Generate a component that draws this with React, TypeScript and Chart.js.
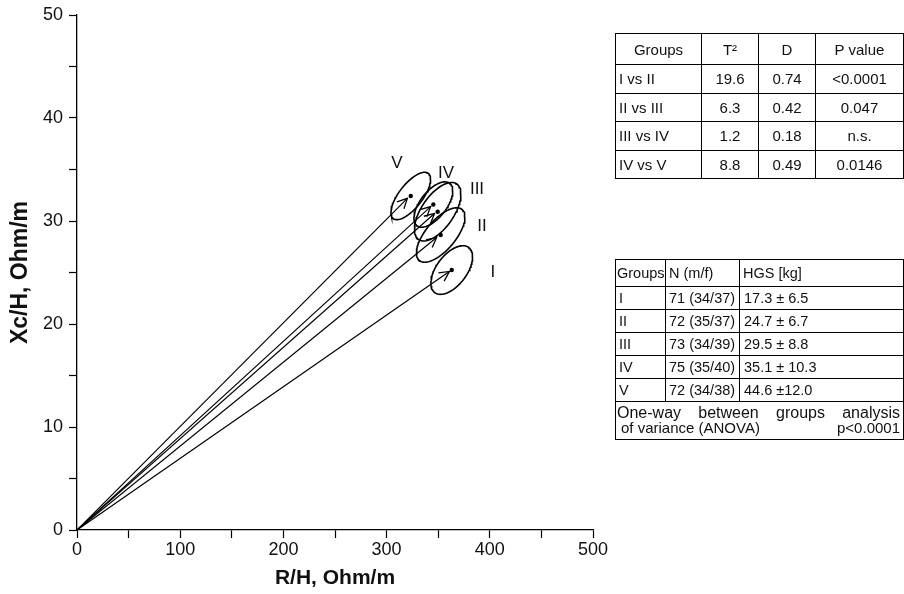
import React, { useEffect, useRef } from "react";
import { Chart, registerables } from "chart.js";

Chart.register(...registerables);

// ---- vector plot data (R/H, Xc/H in Ohm/m) ----
const groups = ["I", "II", "III", "IV", "V"];
const meanR = [363.1, 352.4, 349.5, 345.3, 323.4];
const meanXc = [25.24, 28.64, 30.9, 31.6, 32.43];
const tipR = [360.8, 348.5, 346.4, 342.7, 320.1];
const tipXc = [25.1, 28.4, 30.73, 31.4, 32.2];
// confidence ellipse: half extent along R, along Xc, and R–Xc correlation
const halfR = [20.2, 23.5, 22.5, 18.8, 19.2];
const halfXc = [2.36, 2.64, 2.84, 2.2, 2.3];
const corrRXc = [0.54, 0.66, 0.6, 0.6, 0.7];
const labelR = [403, 392.4, 387.6, 357.6, 310];
const labelXc = [25.0, 29.5, 33.1, 34.6, 35.6];

const xTicksMajor = [0, 100, 200, 300, 400, 500];
const yTicksMajor = [0, 10, 20, 30, 40, 50];

// ---- table 1 ----
const pairHead = ["Groups", "T²", "D", "P value"];
const pairNames = ["I vs II", "II vs III", "III vs IV", "IV vs V"];
const pairT2 = ["19.6", "6.3", "1.2", "8.8"];
const pairD = ["0.74", "0.42", "0.18", "0.49"];
const pairP = ["<0.0001", "0.047", "n.s.", "0.0146"];

// ---- table 2 ----
const grpHead = ["Groups", "N (m/f)", "HGS [kg]"];
const grpN = ["71 (34/37)", "72 (35/37)", "73 (34/39)", "75 (35/40)", "72 (34/38)"];
const grpHGS = ["17.3 ± 6.5", "24.7 ± 6.7", "29.5 ± 8.8", "35.1 ± 10.3", "44.6 ±12.0"];
const anovaLine1 = "One-way between groups analysis";
const anovaLine2 = "of variance (ANOVA)";
const anovaP = "p<0.0001";

const FONT = '"Liberation Sans", Arial, sans-serif';

function ellipsePoints(i: number) {
  const pts: { x: number; y: number }[] = [];
  const n = 96;
  const r = corrRXc[i];
  const s = Math.sqrt(1 - r * r);
  for (let k = 0; k <= n; k++) {
    const t = (k / n) * Math.PI * 2;
    pts.push({
      x: meanR[i] + halfR[i] * Math.cos(t),
      y: meanXc[i] + halfXc[i] * (r * Math.cos(t) + s * Math.sin(t)),
    });
  }
  return pts;
}

const arrowPlugin = {
  id: "arrowsAndLabels",
  afterDatasetsDraw(chart: any) {
    const { ctx, scales } = chart;
    const xs = scales.x;
    const ys = scales.y;
    const ox = xs.getPixelForValue(0);
    const oy = ys.getPixelForValue(0);
    ctx.save();
    ctx.strokeStyle = "#000";
    ctx.lineWidth = 1.3;
    for (let i = 0; i < groups.length; i++) {
      const tx = xs.getPixelForValue(tipR[i]);
      const ty = ys.getPixelForValue(tipXc[i]);
      const ang = Math.atan2(ty - oy, tx - ox);
      const len = 11;
      const spread = 0.47;
      ctx.beginPath();
      ctx.moveTo(tx + len * Math.cos(ang + Math.PI - spread), ty + len * Math.sin(ang + Math.PI - spread));
      ctx.lineTo(tx, ty);
      ctx.lineTo(tx + len * Math.cos(ang + Math.PI + spread), ty + len * Math.sin(ang + Math.PI + spread));
      ctx.stroke();
    }
    ctx.fillStyle = "#111";
    ctx.font = `17px ${FONT}`;
    ctx.textAlign = "center";
    ctx.textBaseline = "middle";
    for (let i = 0; i < groups.length; i++) {
      ctx.fillText(groups[i], xs.getPixelForValue(labelR[i]), ys.getPixelForValue(labelXc[i]));
    }
    ctx.restore();
  },
};

function ChartView() {
  const ref = useRef<HTMLCanvasElement | null>(null);
  useEffect(() => {
    if (!ref.current) return;
    const datasets: any[] = [];
    groups.forEach((g, i) => {
      datasets.push({
        label: "ellipse " + g,
        data: ellipsePoints(i),
        showLine: true,
        borderColor: "#000",
        borderWidth: 1.6,
        pointRadius: 0,
        tension: 0,
        fill: false,
      });
      datasets.push({
        label: "vector " + g,
        data: [
          { x: 0, y: 0 },
          { x: tipR[i], y: tipXc[i] },
        ],
        showLine: true,
        borderColor: "#000",
        borderWidth: 1.2,
        pointRadius: 0,
        tension: 0,
        fill: false,
      });
    });
    datasets.push({
      label: "means",
      data: meanR.map((r, i) => ({ x: r, y: meanXc[i] })),
      showLine: false,
      pointRadius: 2.2,
      pointBackgroundColor: "#000",
      pointBorderColor: "#000",
      pointBorderWidth: 0,
    });

    const chart = new Chart(ref.current, {
      type: "scatter",
      data: { datasets },
      plugins: [arrowPlugin],
      options: {
        animation: false,
        responsive: false,
        devicePixelRatio: 1,
        layout: { padding: { left: 6, right: 311, top: 15, bottom: 2 } },
        plugins: { legend: { display: false }, tooltip: { enabled: false } },
        scales: {
          x: {
            type: "linear",
            min: 0,
            max: 500,
            ticks: {
              stepSize: 50,
              color: "#111",
              font: { family: FONT, size: 18 },
              padding: 1,
              maxRotation: 0,
              autoSkip: false,
              callback: (v: any) => (xTicksMajor.includes(Number(v)) ? String(v) : ""),
            },
            grid: { drawOnChartArea: false, drawTicks: true, tickLength: 8, tickColor: "#000", tickWidth: 1.2 },
            border: { color: "#000", width: 1.3 },
            title: {
              display: true,
              text: "R/H, Ohm/m",
              color: "#111",
              font: { family: FONT, size: 21, weight: "bold" },
              padding: { top: 2, bottom: 1 },
            },
            afterFit: (s: any) => {
              s.height = 594 - 2 - 530;
              s.paddingLeft = 0;
              s.paddingRight = 0;
              s.paddingTop = 0;
              s.paddingBottom = 0;
            },
          },
          y: {
            type: "linear",
            min: 0,
            max: 50,
            ticks: {
              stepSize: 5,
              color: "#111",
              font: { family: FONT, size: 18 },
              padding: 6,
              autoSkip: false,
              callback: (v: any) => (yTicksMajor.includes(Number(v)) ? String(v) : ""),
            },
            grid: { drawOnChartArea: false, drawTicks: true, tickLength: 8, tickColor: "#000", tickWidth: 1.2 },
            border: { color: "#000", width: 1.3 },
            title: {
              display: true,
              text: "Xc/H, Ohm/m",
              color: "#111",
              font: { family: FONT, size: 23, weight: "bold" },
              padding: { top: 1, bottom: 2 },
            },
            afterFit: (s: any) => {
              s.width = 77 - 6;
              s.paddingLeft = 0;
              s.paddingRight = 0;
              s.paddingTop = 0;
              s.paddingBottom = 0;
            },
          },
        },
      } as any,
    });
    return () => chart.destroy();
  }, []);
  return <canvas ref={ref} width={904} height={594} style={{ position: "absolute", left: 0, top: 0 }} />;
}

const td: React.CSSProperties = {
  border: "1.3px solid #000",
  padding: "0 6px",
  whiteSpace: "nowrap",
};

export default function App() {
  return (
    <div style={{ position: "absolute", left: 0, top: 0, width: 904, height: 594, background: "#fff", overflow: "hidden" }}>
      <ChartView />
      <table
        style={{
          position: "absolute",
          left: 615,
          top: 33,
          width: 288,
          borderCollapse: "collapse",
          fontFamily: FONT,
          fontSize: 15,
          color: "#111",
          tableLayout: "fixed",
        }}
      >
        <colgroup>
          <col style={{ width: 86 }} />
          <col style={{ width: 57 }} />
          <col style={{ width: 57 }} />
          <col style={{ width: 88 }} />
        </colgroup>
        <tbody>
          <tr style={{ height: 31 }}>
            {pairHead.map((h) => (
              <td key={h} style={{ ...td, textAlign: "center" }}>{h}</td>
            ))}
          </tr>
          {pairNames.map((n, i) => (
            <tr key={n} style={{ height: 28.5 }}>
              <td style={{ ...td, textAlign: "left", paddingLeft: 3 }}>{n}</td>
              <td style={{ ...td, textAlign: "center" }}>{pairT2[i]}</td>
              <td style={{ ...td, textAlign: "center" }}>{pairD[i]}</td>
              <td style={{ ...td, textAlign: "center" }}>{pairP[i]}</td>
            </tr>
          ))}
        </tbody>
      </table>

      <table
        style={{
          position: "absolute",
          left: 615,
          top: 259,
          width: 288,
          borderCollapse: "collapse",
          fontFamily: FONT,
          fontSize: 14.5,
          color: "#111",
          tableLayout: "fixed",
        }}
      >
        <colgroup>
          <col style={{ width: 50 }} />
          <col style={{ width: 74 }} />
          <col style={{ width: 164 }} />
        </colgroup>
        <tbody>
          <tr style={{ height: 27 }}>
            {grpHead.map((h, k) => (
              <td key={h} style={{ ...td, textAlign: "left", padding: k === 0 ? "0 0 0 1px" : "0 3px" }}>{h}</td>
            ))}
          </tr>
          {groups.map((g, i) => (
            <tr key={g} style={{ height: 23 }}>
              <td style={{ ...td, textAlign: "left", padding: "0 3px" }}>{g}</td>
              <td style={{ ...td, textAlign: "left", padding: "0 3px" }}>{grpN[i]}</td>
              <td style={{ ...td, textAlign: "left", padding: "0 4px" }}>{grpHGS[i]}</td>
            </tr>
          ))}
          <tr>
            <td colSpan={3} style={{ ...td, padding: "3px 3px 4px 1px", lineHeight: "15px" }}>
              <div style={{ textAlign: "justify", textAlignLast: "justify", fontSize: 16 }}>{anovaLine1}</div>
              <div style={{ display: "flex", justifyContent: "space-between", paddingLeft: 4, paddingRight: 0, fontSize: 15 }}>
                <span>{anovaLine2}</span>
                <span>{anovaP}</span>
              </div>
            </td>
          </tr>
        </tbody>
      </table>
    </div>
  );
}
